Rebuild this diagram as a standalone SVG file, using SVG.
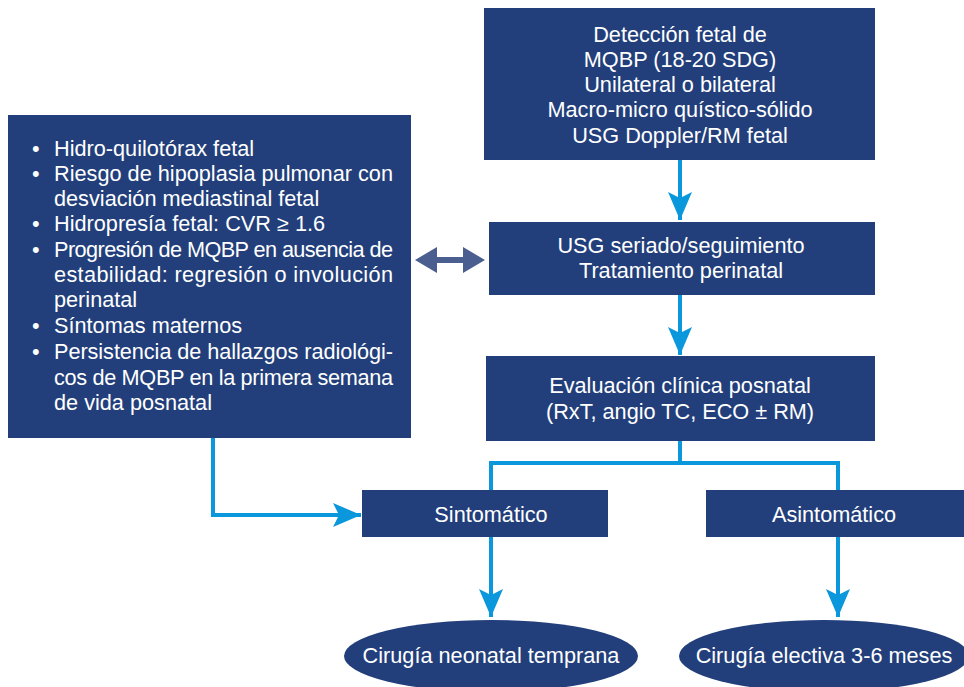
<svg xmlns="http://www.w3.org/2000/svg" width="964" height="687" viewBox="0 0 964 687">
<style>
.box{fill:#223f7b}
.t{font-family:"Liberation Sans",Arial,sans-serif;font-size:21.7px;fill:#ffffff}
.c{text-anchor:middle}
.ln{fill:none;stroke:#0a97db;stroke-width:4}
</style>
<defs>
<marker id="ah" markerUnits="userSpaceOnUse" markerWidth="30" markerHeight="30" refX="28" refY="12" orient="auto">
<path d="M0,0 L28,12 L0,24 L6,12 Z" fill="#0a97db"/>
</marker>
</defs>
<rect width="964" height="687" fill="#ffffff"/>
<g id="n1"><rect class="box" x="484" y="8" width="391" height="152"/>
<text class="t c" x="680" y="42">Detección fetal de</text>
<text class="t c" x="680" y="67">MQBP (18-20 SDG)</text>
<text class="t c" x="680" y="92">Unilateral o bilateral</text>
<text class="t c" x="680" y="117">Macro-micro quístico-sólido</text>
<text class="t c" x="680" y="143">USG Doppler/RM fetal</text></g>
<g id="n2"><rect class="box" x="8" y="115" width="403" height="323"/>
<g class="t">
<text x="32" y="156">•</text><text x="54" y="156">Hidro-quilotórax fetal</text>
<text x="32" y="181">•</text><text x="54" y="181" textLength="339" lengthAdjust="spacing">Riesgo de hipoplasia pulmonar con</text>
<text x="54" y="206">desviación mediastinal fetal</text>
<text x="32" y="231">•</text><text x="54" y="231">Hidropresía fetal: CVR ≥ 1.6</text>
<text x="32" y="257">•</text><text x="54" y="257" textLength="339" lengthAdjust="spacing">Progresión de MQBP en ausencia de</text>
<text x="54" y="282" textLength="339" lengthAdjust="spacing">estabilidad: regresión o involución</text>
<text x="54" y="307">perinatal</text>
<text x="32" y="333">•</text><text x="54" y="333">Síntomas maternos</text>
<text x="32" y="359">•</text><text x="54" y="359" textLength="339" lengthAdjust="spacing">Persistencia de hallazgos radiológi-</text>
<text x="54" y="385" textLength="339" lengthAdjust="spacing">cos de MQBP en la primera semana</text>
<text x="54" y="410">de vida posnatal</text>
</g></g>
<g id="n3"><rect class="box" x="489" y="222" width="386" height="73"/>
<text class="t c" x="681" y="253">USG seriado/seguimiento</text>
<text class="t c" x="681" y="278">Tratamiento perinatal</text></g>
<g id="n4"><rect class="box" x="486" y="356" width="389" height="85"/>
<text class="t c" x="680" y="393">Evaluación clínica posnatal</text>
<text class="t c" x="680" y="419">(RxT, angio TC, ECO ± RM)</text></g>
<g id="n5"><rect class="box" x="362" y="490" width="246" height="47"/>
<text class="t c" x="491" y="522">Sintomático</text></g>
<g id="n6"><rect class="box" x="706" y="490" width="258" height="47"/>
<text class="t c" x="834" y="522">Asintomático</text></g>
<g id="n7"><ellipse class="box" cx="491" cy="656" rx="147" ry="36"/>
<text class="t c" x="491" y="663">Cirugía neonatal temprana</text></g>
<g id="n8"><ellipse class="box" cx="824" cy="656" rx="145" ry="36"/>
<text class="t c" x="824" y="663">Cirugía electiva 3-6 meses</text></g>
<g id="connectors">
<path class="ln" d="M680,160 V220" marker-end="url(#ah)"/>
<path class="ln" d="M680,295 V355" marker-end="url(#ah)"/>
<path class="ln" d="M680,441 V463 M491,490 V463 H838 V490"/>
<path class="ln" d="M491,537 V617" marker-end="url(#ah)"/>
<path class="ln" d="M838,537 V617" marker-end="url(#ah)"/>
<path class="ln" d="M213,438 V515 H361" marker-end="url(#ah)"/>
<path d="M415,260 L437,247 L437,257 L463,257 L463,247 L485,260 L463,273 L463,263 L437,263 L437,273 Z" fill="#4a5f90"/>
</g>
</svg>
